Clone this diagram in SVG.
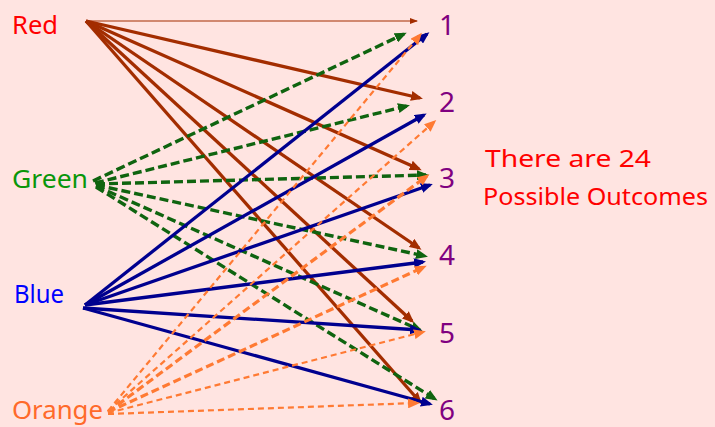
<svg xmlns="http://www.w3.org/2000/svg" width="715" height="427" viewBox="0 0 715 427">
<defs>
<style>
.lbl{font-family:"Comic Sans MS","Noto Sans",sans-serif;font-size:26px}
.num{font-family:"Comic Sans MS","Noto Sans",sans-serif;font-size:28px;fill:#800080}
.note{font-family:"Comic Sans MS","Noto Sans",sans-serif;font-size:24px;fill:#FF0000}
.red{stroke:#A32D00;stroke-width:3.3;fill:none;marker-end:url(#ahR)}
.redthin{stroke:#A32D00;stroke-width:1.2;fill:none;marker-end:url(#ahRs)}
.grn{stroke:#0F640F;stroke-width:3.4;fill:none;stroke-dasharray:9 4;marker-end:url(#ahG)}
.blu{stroke:#00008F;stroke-width:3.3;fill:none;marker-end:url(#ahB)}
.org{stroke:#FF7A33;stroke-width:2.2;fill:none;stroke-dasharray:6 4;marker-end:url(#ahO)}
.orgT{stroke:#FF7A33;stroke-width:3.2;fill:none;stroke-dasharray:8 4;marker-end:url(#ahO)}
</style>
<marker id="ahR" markerUnits="userSpaceOnUse" markerWidth="12" markerHeight="10" refX="9" refY="5" orient="auto"><path d="M0,0 L12,5 L0,10 z" fill="#A32D00"/></marker>
<marker id="ahRs" markerUnits="userSpaceOnUse" markerWidth="8" markerHeight="6" refX="7" refY="3" orient="auto"><path d="M0,0 L8,3 L0,6 z" fill="#A32D00"/></marker>
<marker id="ahG" markerUnits="userSpaceOnUse" markerWidth="12" markerHeight="10" refX="9" refY="5" orient="auto"><path d="M0,0 L12,5 L0,10 z" fill="#0F640F"/></marker>
<marker id="ahB" markerUnits="userSpaceOnUse" markerWidth="12" markerHeight="10" refX="9" refY="5" orient="auto"><path d="M0,0 L12,5 L0,10 z" fill="#00008F"/></marker>
<marker id="ahO" markerUnits="userSpaceOnUse" markerWidth="12" markerHeight="10" refX="9" refY="5" orient="auto"><path d="M0,0 L12,5 L0,10 z" fill="#FF7A33"/></marker>
</defs>
<rect width="715" height="427" fill="#FFE4E1"/>
<g id="connectors">
<line class="redthin" x1="86" y1="21" x2="417" y2="21"/>
<line class="red" x1="86" y1="21" x2="420" y2="98"/>
<line class="red" x1="86" y1="21" x2="419" y2="169"/>
<line class="red" x1="86" y1="21" x2="419" y2="248"/>
<line class="red" x1="86" y1="21" x2="412" y2="321"/>
<line class="red" x1="86" y1="21" x2="420" y2="402"/>
<line class="grn" x1="93" y1="181" x2="404" y2="34"/>
<line class="grn" x1="95" y1="183" x2="407" y2="106"/>
<line class="grn" x1="96" y1="184" x2="426" y2="175"/>
<line class="grn" x1="96" y1="185" x2="425" y2="256"/>
<line class="grn" x1="96" y1="186" x2="420" y2="330"/>
<line class="grn" x1="96" y1="187" x2="435" y2="399"/>
<line class="blu" x1="85" y1="305" x2="427" y2="34"/>
<line class="blu" x1="85" y1="305" x2="424" y2="115"/>
<line class="blu" x1="85" y1="305" x2="430" y2="185"/>
<line class="blu" x1="85" y1="305" x2="423" y2="262"/>
<line class="blu" x1="83" y1="308" x2="419" y2="330"/>
<line class="blu" x1="83" y1="308" x2="430" y2="404"/>
<line class="org" x1="108" y1="411" x2="420" y2="35"/>
<line class="org" x1="108" y1="411" x2="434" y2="122"/>
<line class="orgT" x1="108" y1="412" x2="427" y2="176"/>
<line class="orgT" x1="108" y1="412" x2="424" y2="267"/>
<line class="org" x1="108" y1="413" x2="423" y2="332"/>
<line class="org" x1="108" y1="414" x2="417" y2="403"/>
</g>
<g id="node-red"><text class="lbl" x="12" y="34" fill="#FF0000" textLength="46" lengthAdjust="spacingAndGlyphs">Red</text></g>
<g id="node-green"><text class="lbl" x="12" y="188" fill="#0A960A" textLength="76" lengthAdjust="spacingAndGlyphs">Green</text></g>
<g id="node-blue"><text class="lbl" x="14" y="303" fill="#0000FF" textLength="50" lengthAdjust="spacingAndGlyphs">Blue</text></g>
<g id="node-orange"><text class="lbl" x="12" y="419" fill="#FF6A2A" textLength="91" lengthAdjust="spacingAndGlyphs">Orange</text></g>
<g id="node-1"><text class="num" x="439" y="35">1</text></g>
<g id="node-2"><text class="num" x="439" y="112">2</text></g>
<g id="node-3"><text class="num" x="439" y="188">3</text></g>
<g id="node-4"><text class="num" x="439" y="265">4</text></g>
<g id="node-5"><text class="num" x="439" y="343">5</text></g>
<g id="node-6"><text class="num" x="439" y="420">6</text></g>
<g id="note">
<text class="note" x="485" y="167" textLength="166" lengthAdjust="spacingAndGlyphs">There are 24</text>
<text class="note" x="483" y="205" textLength="225" lengthAdjust="spacingAndGlyphs">Possible Outcomes</text>
</g>
</svg>
